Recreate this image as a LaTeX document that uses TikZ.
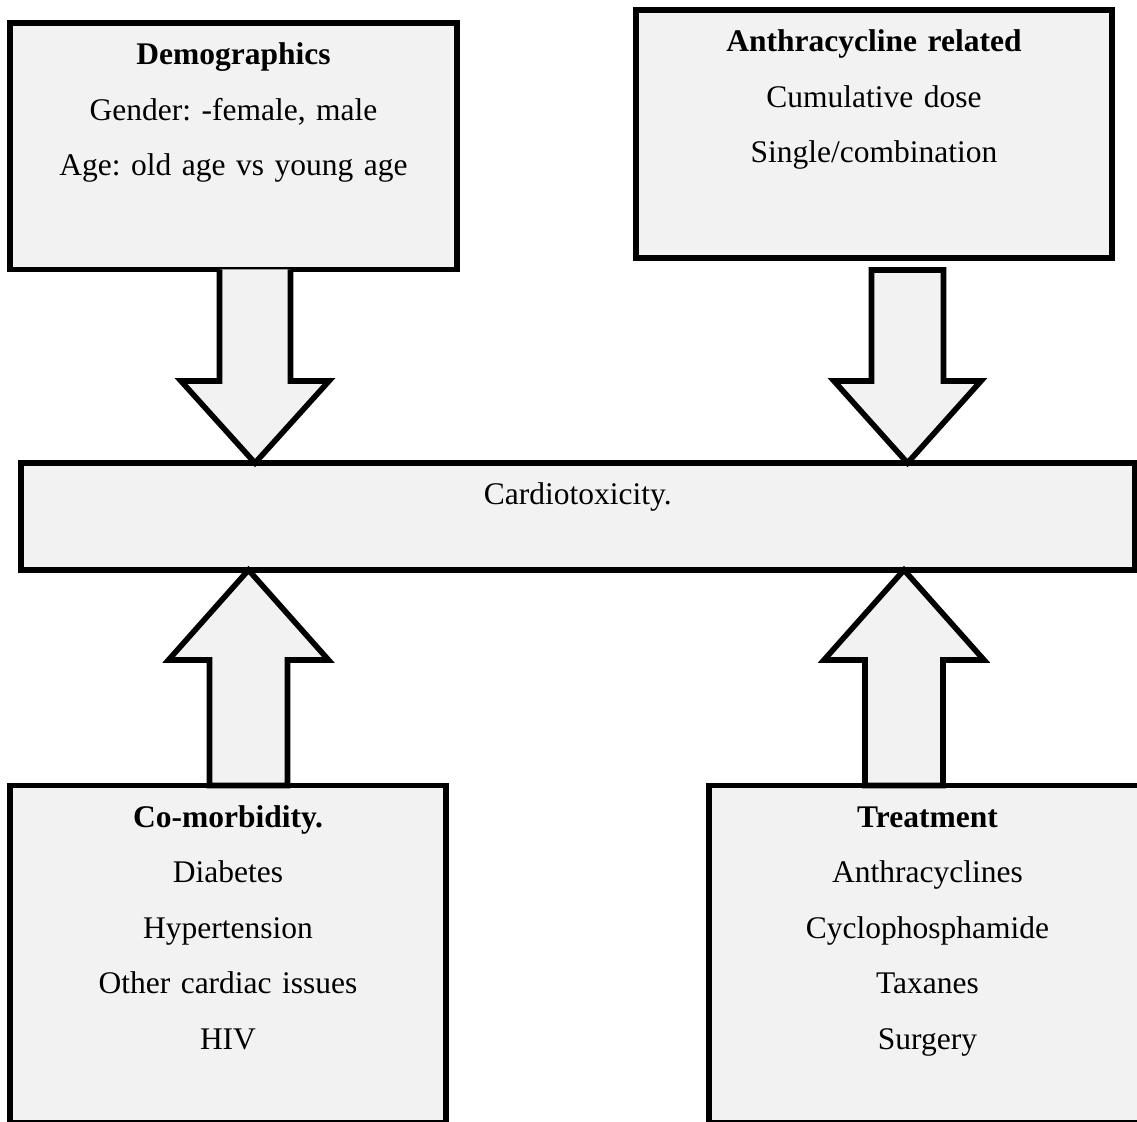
\documentclass[tikz,border=0pt]{standalone}
\usepackage{fontspec}
\setmainfont{Liberation Serif}
\usetikzlibrary{calc,positioning}

\definecolor{boxgray}{RGB}{242,242,242}
\tikzset{
  catbox/.style={draw, line width=2.8pt, fill=boxgray, anchor=north west,
                 inner sep=0pt, outer sep=0pt},
  cattext/.style={text width=210pt, align=center, inner sep=0pt,
                  font=\fontsize{15.75pt}{27.75pt}\selectfont\frenchspacing},
  fatline/.style={line width=2.8pt, line join=miter}
}
% from, tip, half shaft, half head, head length, end
\newcommand{\fatarrow}[6]{
  \coordinate (hb) at ($(#2)!#5!(#1)$);
  \fill[boxgray] ($(#1)!#3!90:(#2)$) -- ($(hb)!#3!90:(#2)$) -- ($(hb)!#4!90:(#2)$)
     -- (#2) -- ($(hb)!#4!-90:(#2)$) -- ($(hb)!#3!-90:(#2)$) -- ($(#1)!#3!-90:(#2)$) -- cycle;
  \draw[fatline] ($(#1)!#3!90:(#2)$) -- ($(hb)!#3!90:(#2)$) -- ($(hb)!#4!90:(#2)$)
     -- (#2) -- ($(hb)!#4!-90:(#2)$) -- ($(hb)!#3!-90:(#2)$) -- ($(#1)!#3!-90:(#2)$) #6;
}

\begin{document}
\begin{tikzpicture}[x=0.5pt, y=-0.5pt]
  \useasboundingbox (0,0) rectangle (1137,1122);
  \clip (0,0) rectangle (1137,1122);

  \node[catbox, minimum width=223.5pt, minimum height=123.25pt] (demo) at (10,23) {};
  \node[catbox, minimum width=238pt, minimum height=124pt] (anth) at (636,10) {};
  \node[catbox, minimum width=556.75pt, minimum height=53.5pt] (cardio) at (21,463) {};
  \node[catbox, minimum width=218pt, minimum height=168.75pt] (comor) at (10,785.5) {};
  \node[catbox, minimum width=218.5pt, minimum height=168.75pt] (treat) at (709,785.5) {};

  \node[cattext, below=21pt of demo.north, anchor=base] (demotxt)
    {\textbf{Demographics}\\ Gender: -female, male\\ Age: old age vs young age};
  \node[cattext, below=21pt of anth.north, anchor=base] (anthtxt)
    {\textbf{Anthracycline related}\\ Cumulative dose\\ Single/combination};
  \node[cattext, below=21pt of cardio.north, anchor=base] (cardiotxt) {Cardiotoxicity.};
  \node[cattext, below=21pt of comor.north, anchor=base] (comortxt)
    {\textbf{Co-morbidity.}\\ Diabetes\\ Hypertension\\ Other cardiac issues\\ HIV};
  \node[cattext, below=21pt of treat.north, anchor=base] (treattxt)
    {\textbf{Treatment}\\ Anthracyclines\\ Cyclophosphamide\\ Taxanes\\ Surgery};

  \coordinate (demoout) at (255,0 |- demo.south);
  \coordinate (cardioin1) at (255,0 |- cardio.north);
  \coordinate (anthout) at (907.5,270);
  \coordinate (cardioin2) at (907.5,0 |- cardio.north);
  \coordinate (comorout) at (248.5,0 |- comor.north);
  \coordinate (cardioin3) at (248.5,0 |- cardio.south);
  \coordinate (treatout) at (904,0 |- treat.north);
  \coordinate (cardioin4) at (904,0 |- cardio.south);

  \fatarrow{demoout}{cardioin1}{17.75pt}{37pt}{41pt}{}
  \fatarrow{anthout}{cardioin2}{18pt}{36.75pt}{41pt}{-- cycle}
  \fatarrow{comorout}{cardioin3}{19.5pt}{40pt}{45pt}{-- cycle}
  \fatarrow{treatout}{cardioin4}{19.5pt}{40pt}{45pt}{-- cycle}
\end{tikzpicture}
\end{document}
